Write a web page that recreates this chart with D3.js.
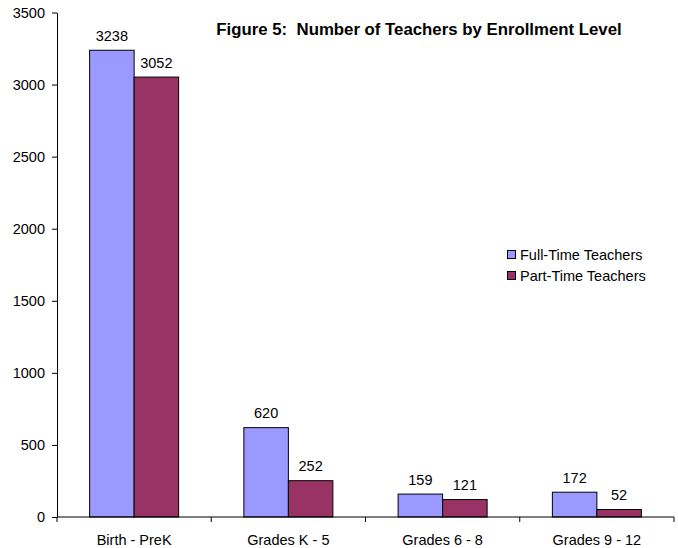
<!DOCTYPE html>
<html>
<head>
<meta charset="utf-8">
<script src="https://cdn.jsdelivr.net/npm/d3@7"></script>
<style>
  body { margin: 0; background: #fff; }
  svg { display: block; font-family: "Liberation Sans", Arial, sans-serif; }
</style>
</head>
<body>
<svg id="chart" width="678" height="548"></svg>
<script>
const categories = ["Birth - PreK", "Grades K - 5", "Grades 6 - 8", "Grades 9 - 12"];
const seriesNames = ["Full-Time Teachers", "Part-Time Teachers"];
const fullTime = [3238, 620, 159, 172];
const partTime = [3052, 252, 121, 52];
const yTicks = [0, 500, 1000, 1500, 2000, 2500, 3000, 3500];
const colors = ["#9999ff", "#993366"];

const svg = d3.select("#chart");
const margin = { top: 12.5, right: 4, bottom: 31, left: 57 };
const width = 678 - margin.left - margin.right;
const height = 548 - margin.top - margin.bottom;
const fs = 14.5;

const g = svg.append("g")
  .attr("transform", `translate(${margin.left},${margin.top})`);

// scales
const x0 = d3.scaleBand().domain(categories).range([0, width]);
const groupW = x0.bandwidth() * 0.577;
const x1 = d3.scaleBand().domain(seriesNames).range([0, groupW]);
const y = d3.scaleLinear().domain([0, 3500]).range([height, 0]);

const rows = categories.map((c, i) => ({ cat: c, vals: [fullTime[i], partTime[i]] }));

// bars
const groups = g.selectAll(".grp").data(rows).enter().append("g")
  .attr("transform", d => `translate(${x0(d.cat) + (x0.bandwidth() - groupW) / 2},0)`);

groups.selectAll("rect")
  .data(d => d.vals.map((v, k) => ({ k, v })))
  .enter().append("rect")
  .attr("x", d => x1(seriesNames[d.k]))
  .attr("y", d => y(d.v))
  .attr("width", x1.bandwidth())
  .attr("height", d => y(0) - y(d.v))
  .attr("fill", d => colors[d.k])
  .attr("stroke", "#000")
  .attr("stroke-width", 1);

groups.selectAll("text")
  .data(d => d.vals.map((v, k) => ({ k, v })))
  .enter().append("text")
  .attr("x", d => x1(seriesNames[d.k]) + x1.bandwidth() / 2)
  .attr("y", d => y(d.v) - 9.5)
  .attr("text-anchor", "middle")
  .attr("font-size", fs)
  .attr("fill", "#000")
  .text(d => d.v);

// y axis
const yAxis = g.append("g")
  .call(d3.axisLeft(y).tickValues(yTicks).tickFormat(d3.format("d"))
    .tickSize(5).tickSizeOuter(0).tickPadding(7));
yAxis.selectAll("text").attr("font-size", fs).attr("fill", "#000");
yAxis.attr("font-family", null);
yAxis.select(".domain").attr("stroke", "#000");

// x axis: ticks at category boundaries
const xAxis = g.append("g").attr("transform", `translate(0,${height})`);
xAxis.append("line").attr("x1", 0).attr("x2", width).attr("stroke", "#000");
const bounds = categories.map(c => x0(c)).concat([x0.range()[1]]);
xAxis.selectAll(".tk").data(bounds).enter().append("line")
  .attr("x1", d => d).attr("x2", d => d).attr("y1", 0).attr("y2", 5)
  .attr("stroke", "#000");
xAxis.selectAll(".lbl").data(categories).enter().append("text")
  .attr("x", d => x0(d) + x0.bandwidth() / 2)
  .attr("y", 28)
  .attr("text-anchor", "middle")
  .attr("font-size", fs)
  .text(d => d);

// title
svg.append("text")
  .attr("x", 419).attr("y", 35)
  .attr("text-anchor", "middle")
  .attr("font-size", 16.8).attr("font-weight", "bold")
  .style("white-space", "pre")
  .text("Figure 5:  Number of Teachers by Enrollment Level");

// legend
const legend = svg.append("g").attr("transform", "translate(507.5,250.5)");
seriesNames.forEach((s, i) => {
  legend.append("rect").attr("x", 0).attr("y", i * 21).attr("width", 8).attr("height", 8)
    .attr("fill", colors[i]).attr("stroke", "#000");
  legend.append("text").attr("x", 12.5).attr("y", i * 21 + 9)
    .attr("font-size", fs).text(s);
});
</script>
</body>
</html>
